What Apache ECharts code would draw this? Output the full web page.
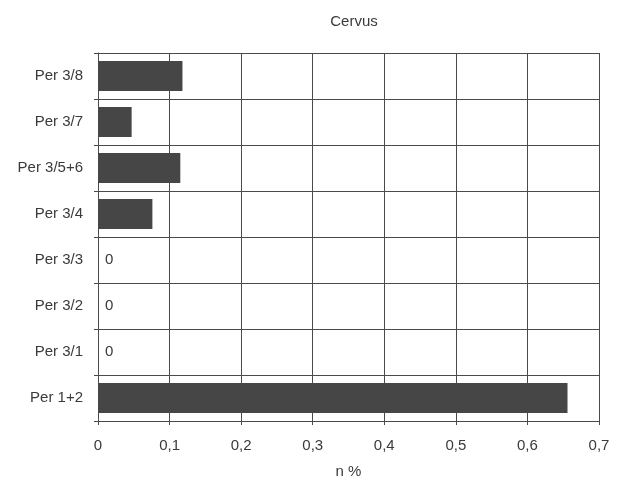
<!DOCTYPE html>
<html>
<head>
<meta charset="utf-8">
<script src="https://cdn.jsdelivr.net/npm/echarts@6/dist/echarts.min.js"></script>
<style>html,body{margin:0;padding:0;background:#fff;}#c{width:619px;height:481px;}</style>
</head>
<body>
<div id="c"></div>
<script>
const categories = ['Per 1+2', 'Per 3/1', 'Per 3/2', 'Per 3/3', 'Per 3/4', 'Per 3/5+6', 'Per 3/7', 'Per 3/8'];
const values = [0.656, 0, 0, 0, 0.076, 0.115, 0.047, 0.118];
const xTicks = { min: 0, max: 0.7, interval: 0.1 };
const titleText = 'Cervus';
const xName = 'n %';

const chart = echarts.init(document.getElementById('c'), null, { renderer: 'canvas' });
const font = 'Liberation Sans, Arial, sans-serif';
const lineCol = '#4a4a4a';
const textCol = '#3a3a3a';
chart.setOption({
  animation: false,
  backgroundColor: '#fff',
  title: {
    text: titleText, left: 349, top: 9, textAlign: 'center',
    textStyle: { fontFamily: font, fontSize: 15, fontWeight: 'normal', color: textCol }
  },
  grid: { left: 98, right: 20, top: 53, bottom: 60, containLabel: false, outerBoundsMode: 'none' },
  xAxis: {
    type: 'value', min: xTicks.min, max: xTicks.max, interval: xTicks.interval,
    name: xName, nameLocation: 'middle', nameGap: 43,
    nameTextStyle: { fontFamily: font, fontSize: 15, color: textCol },
    axisLine: { show: true, lineStyle: { color: lineCol, width: 1 } },
    axisTick: { show: true, length: 4, lineStyle: { color: lineCol } },
    axisLabel: { fontFamily: font, fontSize: 15, color: textCol, margin: 17,
      formatter: v => String(Math.round(v * 10) / 10).replace('.', ',') },
    splitLine: { show: true, lineStyle: { color: lineCol, width: 1 } }
  },
  yAxis: {
    type: 'category', data: categories,
    axisLine: { show: true, lineStyle: { color: lineCol, width: 1 } },
    axisTick: { show: true, length: 4, lineStyle: { color: lineCol } },
    axisLabel: { fontFamily: font, fontSize: 15, color: textCol, margin: 15 },
    splitLine: { show: true, lineStyle: { color: lineCol, width: 1 } }
  },
  series: [{
    type: 'bar', data: values, barCategoryGap: '35%',
    itemStyle: { color: '#464646' },
    label: {
      show: true, position: 'right', distance: 7,
      fontFamily: font, fontSize: 15, color: textCol,
      formatter: p => p.value === 0 ? '0' : ''
    }
  }]
});
</script>
</body>
</html>
